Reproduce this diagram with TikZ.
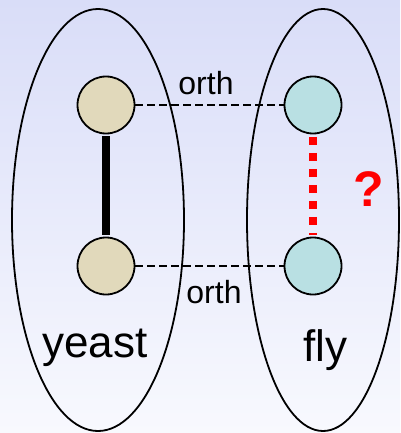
\documentclass[tikz,border=0pt]{standalone}
\usepackage{fontspec}
\setmainfont{Liberation Sans}
\begin{document}
\begin{tikzpicture}[x=1pt,y=-1pt,
  group/.style={draw=black,line width=1.8pt},
  yeastnode/.style={circle,draw=black,line width=1.8pt,fill=tanc,minimum size=57pt,inner sep=0pt},
  flynode/.style={circle,draw=black,line width=1.8pt,fill=cyanc,minimum size=57pt,inner sep=0pt},
  orthline/.style={draw=black,line width=1.2pt,dash pattern=on 8pt off 4pt},
  lbl/.style={font=\fontsize{32}{36}\selectfont,anchor=base,inner sep=0pt},
  species/.style={font=\fontsize{44}{50}\selectfont,anchor=base,inner sep=0pt}]
\definecolor{tanc}{RGB}{225,217,187}
\definecolor{cyanc}{RGB}{185,224,227}
\definecolor{bgtop}{RGB}{217,221,248}
\definecolor{bgbot}{RGB}{248,249,254}
\useasboundingbox (0,0) rectangle (400,433);
\shade[top color=bgtop,bottom color=bgbot] (0,0) rectangle (400,433);
\draw[group] (98,220) ellipse [x radius=86, y radius=211];
\draw[group] (323,220) ellipse [x radius=76, y radius=211];
\node[yeastnode] (y1) at (106,105) {};
\node[yeastnode] (y2) at (106,266) {};
\node[flynode] (f1) at (313,105) {};
\node[flynode] (f2) at (313,266) {};
\draw[orthline] (y1.east) -- (f1.west);
\draw[orthline] (y2.east) -- (f2.west);
\draw[line width=8.5pt,shorten <=2pt,shorten >=2pt] (y1.south) -- (y2.north);
\draw[red,line width=8pt,dash pattern=on 8pt off 8pt,shorten <=2.5pt,shorten >=1.5pt] (f1.south) -- (f2.north);
\node[lbl] (o1) at (206,95) {orth};
\node[lbl] (o2) at (214,303) {orth};
\node[species] (ys) at (95,357) {yeast};
\node[species] (fs) at (325,361) {fly};
\node[font=\fontsize{50}{56}\selectfont\bfseries,text=red,inner sep=0pt] (q) at (369,189) {?};
\end{tikzpicture}
\end{document}
